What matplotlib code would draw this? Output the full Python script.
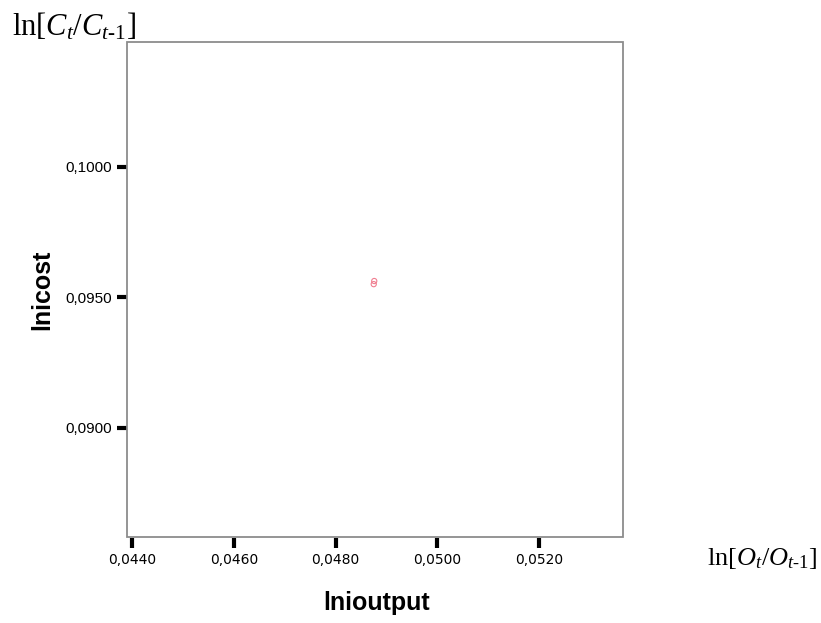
import matplotlib
matplotlib.use("Agg")
import matplotlib.pyplot as plt
from matplotlib.patches import Rectangle

# data
lnioutput = [0.04876, 0.04875]
lnicost = [0.09563, 0.09551]
x_ticks = [0.0440, 0.0460, 0.0480, 0.0500, 0.0520]
y_ticks = [0.0900, 0.0950, 0.1000]
x_ticklabels = ["0,0440", "0,0460", "0,0480", "0,0500", "0,0520"]
y_ticklabels = ["0,0900", "0,0950", "0,1000"]

plt.rcParams['mathtext.fontset'] = 'custom'
plt.rcParams['mathtext.rm'] = 'Liberation Serif'
plt.rcParams['mathtext.it'] = 'Liberation Serif:italic'

W, H = 821, 623
fig = plt.figure(figsize=(W/100, H/100), dpi=100)
ax = fig.add_axes([127/W, 1-537/H, (623-127)/W, (537-42)/H])

ax.scatter(lnioutput, lnicost, s=14, facecolors='none', edgecolors='#f07e90', linewidths=0.8, zorder=3)

ax.set_xlim(0.04390, 0.05365)
ax.set_ylim(0.08582, 0.10479)
ax.set_xticks(x_ticks)
ax.set_xticklabels(x_ticklabels, fontfamily='Liberation Sans', fontsize=11)
ax.set_yticks(y_ticks)
ax.set_yticklabels(y_ticklabels, fontfamily='Liberation Sans', fontsize=11)
ax.tick_params(direction='out', length=7.5, width=3, color='black', pad=3)

for s in ax.spines.values():
    s.set_visible(False)
ax.spines['bottom'].set_position(('outward', 1))
ax.add_patch(Rectangle((0, 0), 1, 1, transform=ax.transAxes, fill=False,
                       ec='#8c8c8c', lw=1.3, clip_on=False, zorder=5))

fig.text(42/W, 1-290/H, 'lnicost', rotation=90, ha='center', va='center',
         fontfamily='Liberation Sans', fontweight='bold', fontsize=18)
fig.text(377/W, 1-603/H, 'lnioutput', ha='center', va='center',
         fontfamily='Liberation Sans', fontweight='bold', fontsize=18)

fig.text(12/W, 1-35/H, r'$\mathrm{ln}[C_{t}/C_{t\text{-}1}]$', ha='left', va='baseline', fontsize=22)
fig.text(817/W, 1-565/H, r'$\mathrm{ln}[O_{t}/O_{t\text{-}1}]$', ha='right', va='baseline', fontsize=19)

fig.savefig('out.png', dpi=100, facecolor='white')
